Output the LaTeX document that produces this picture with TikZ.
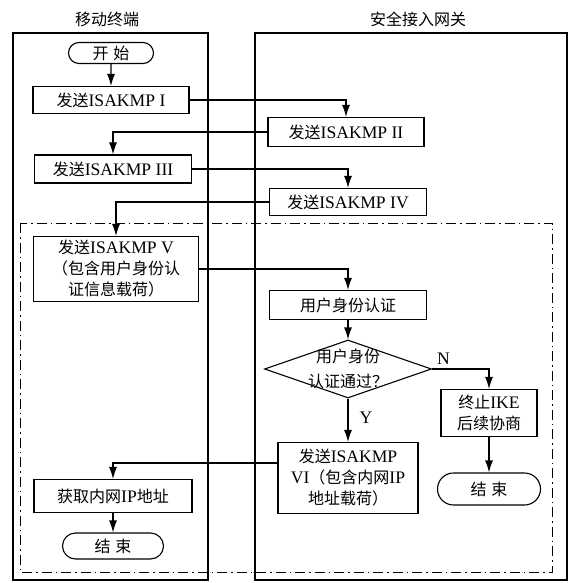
\documentclass[tikz,border=0pt]{standalone}
\usepackage{fontspec}
\setmainfont{Liberation Serif}[Scale=1.1]
\newfontfamily\cjk{Noto Sans CJK SC}
\usetikzlibrary{shapes.geometric,shapes.misc,arrows.meta}
\newcommand\zh[1]{{\cjk #1}}
\begin{document}
\begin{tikzpicture}[x=1pt,y=-1pt,
  font=\fontsize{16}{21}\selectfont,
  proc/.style={draw, line width=1.1pt, inner sep=1pt, align=center},
  term/.style={draw, line width=1.1pt, rounded rectangle, inner sep=0pt},
  lane/.style={draw, line width=1.1pt},
  arr/.style={line width=1.1pt, -{Latex[length=12pt,width=8pt]}},
  dd/.style={line width=1pt, dash pattern=on 10pt off 4pt on 1.5pt off 4pt},
  lbl/.style={inner sep=1pt}]
\useasboundingbox (0,0) rectangle (570,583);
% lanes
\draw[lane] (13,33) rectangle (208,580);
\draw[lane] (255,33) rectangle (567,580);
\draw[dd] (20,223) rectangle (552,572);
\node (t1) at (107,19) {\zh{移动终端}};
\node (t2) at (418,19) {\zh{安全接入网关}};
% left column
\node[term, minimum width=85pt, minimum height=21pt] (start) at (111,53) {\zh{开\hspace{0.3em}始}};
\node[proc, minimum width=156pt, minimum height=27pt] (s1) at (111,100) {\zh{发送}ISAKMP I};
\node[proc, minimum width=157pt, minimum height=28pt] (s3) at (113,169) {\zh{发送}ISAKMP III};
\node[proc, minimum width=165pt, minimum height=65pt] (s5) at (116,269) {\zh{发送}ISAKMP V\\\zh{（包含用户身份认}\\\zh{证信息载荷）}};
\node[proc, minimum width=158pt, minimum height=33pt] (ip) at (113,496) {\zh{获取内网}IP\zh{地址}};
\node[term, minimum width=101pt, minimum height=26pt] (end1) at (113,546) {\zh{结\hspace{0.3em}束}};
% right column
\node[proc, minimum width=156pt, minimum height=29pt] (s2) at (346,132) {\zh{发送}ISAKMP II};
\node[proc, minimum width=157pt, minimum height=27pt] (s4) at (348,202) {\zh{发送}ISAKMP IV};
\node[proc, minimum width=157pt, minimum height=29pt] (auth) at (348,305) {\zh{用户身份认证}};
\node[diamond, draw, line width=1.1pt, inner sep=0pt, minimum width=167pt, minimum height=58pt] (dec) at (348,369) {};
\node[align=center, font=\fontsize{16}{25}\selectfont] (dectext) at (dec) {\zh{用户身份}\\\zh{认证通过？}};
\node[proc, minimum width=140pt, minimum height=71pt] (s6) at (348,478) {\zh{发送}ISAKMP\\VI\zh{（包含内网}IP\\\zh{地址载荷）}};
\node[proc, minimum width=96pt, minimum height=47pt] (stop) at (489,413) {\zh{终止}IKE\\\zh{后续协商}};
\node[term, minimum width=103pt, minimum height=32pt] (end2) at (489,489) {\zh{结\hspace{0.3em}束}};
% connectors
\draw[arr] (start) -- (s1);
\draw[arr] (s1.east) -| (s2.north);
\draw[arr] (s2.west) -| (s3.north);
\draw[arr] (s3.east) -| (s4.north);
\draw[arr] (s4.west) -| (s5.north);
\draw[arr] (s5.east) -| (auth.north);
\draw[arr] (auth) -- (dec);
\draw[arr] (dec.east) -| node[lbl, pos=0.1, above=3pt] {N} (stop.north);
\draw[arr] (dec.south) -- node[lbl, pos=0.45, right=10pt] {Y} (s6.north);
\draw[arr] (stop) -- (end2);
\draw[arr] ([yshift=15pt]s6.west) -| (ip.north);
\draw[arr] (ip) -- (end1);
\end{tikzpicture}
\end{document}
